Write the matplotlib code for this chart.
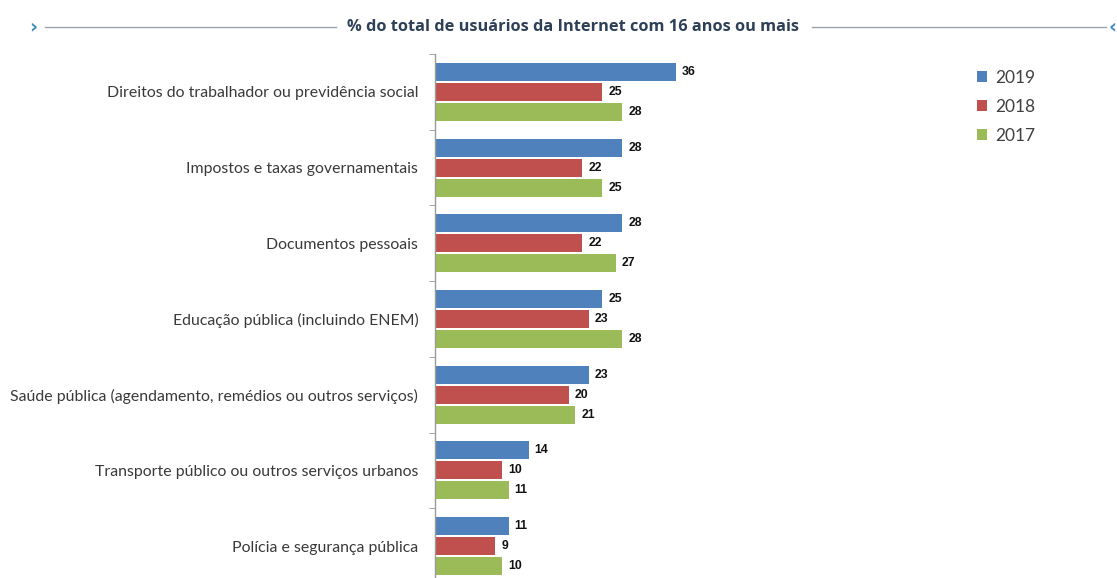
import numpy as np
import matplotlib.pyplot as plt
from matplotlib.lines import Line2D

categories = [
    "Direitos do trabalhador ou previdência social",
    "Impostos e taxas governamentais",
    "Documentos pessoais",
    "Educação pública (incluindo ENEM)",
    "Saúde pública (agendamento, remédios ou outros serviços)",
    "Transporte público ou outros serviços urbanos",
    "Polícia e segurança pública",
]
years = ["2019", "2018", "2017"]
values_2019 = [36, 28, 28, 25, 23, 14, 11]
values_2018 = [25, 22, 22, 23, 20, 10, 9]
values_2017 = [28, 25, 27, 28, 21, 11, 10]
colors = ["#4F81BD", "#C0504D", "#9BBB59"]

W, H = 1117, 578
fig = plt.figure(figsize=(W / 100, H / 100), dpi=100)

# axes placed in pixel terms; bottom runs past the figure edge
left, top, bottom = 435, 54, 584
px_per_unit = 6.69
xmax = 60
ax = fig.add_axes([left / W, 1 - bottom / H, xmax * px_per_unit / W, (bottom - top) / H])

y = np.arange(len(categories))
offset = 0.264
height = 0.238
for k, (vals, col) in enumerate(zip([values_2019, values_2018, values_2017], colors)):
    pos = y + (k - 1) * offset
    ax.barh(pos, vals, height=height, color=col, label=years[k])
    for p, v in zip(pos, vals):
        ax.text(v + 0.9, p, str(v), va="center", ha="left", fontsize=8.8,
                fontweight="bold", color="#111111", family="Liberation Sans")

ax.set_xlim(0, xmax)
ax.set_ylim(len(categories) - 0.5, -0.5)
for s in ["top", "right", "bottom"]:
    ax.spines[s].set_visible(False)
ax.spines["left"].set_color("#9a9a9a")
ax.spines["left"].set_linewidth(1.0)
ax.set_xticks([])
ax.set_yticks(y)
ax.set_yticklabels(categories, fontsize=11.4, color="#3a3a3a", family="Lato")
ax.tick_params(axis="y", which="major", length=0, pad=12)
ax.set_yticks(np.arange(len(categories) + 1) - 0.5, minor=True)
ax.tick_params(axis="y", which="minor", length=4, color="#9a9a9a", direction="out")

# legend: colored squares and year labels
leg = ax.legend(loc="upper left",
                bbox_to_anchor=((961 - left) / (xmax * px_per_unit), 1.0),
                frameon=False, handlelength=0.6, handleheight=0.6,
                handletextpad=0.45, labelspacing=0.75, prop={"family": "Lato", "size": 12.5})
for t in leg.get_texts():
    t.set_color("#404040")

# header with rules on each side
title_y = 1 - 27 / H
fig.text(573 / W, title_y, "% do total de usuários da Internet com 16 anos ou mais",
         ha="center", va="center", fontsize=11.8, fontweight="bold", color="#2e4057",
         family="Open Sans")
fig.add_artist(Line2D([45 / W, 336 / W], [title_y, title_y], color="#9aa4ad", lw=1))
fig.add_artist(Line2D([812 / W, 1106 / W], [title_y, title_y], color="#9aa4ad", lw=1))
fig.text(33 / W, title_y, "›", ha="center", va="center", fontsize=14, fontweight="bold",
         color="#3c8dc4")
fig.text(1113 / W, title_y, "‹", ha="center", va="center", fontsize=14, fontweight="bold",
         color="#3c8dc4")

fig.savefig("out.png", dpi=100, facecolor="white")
